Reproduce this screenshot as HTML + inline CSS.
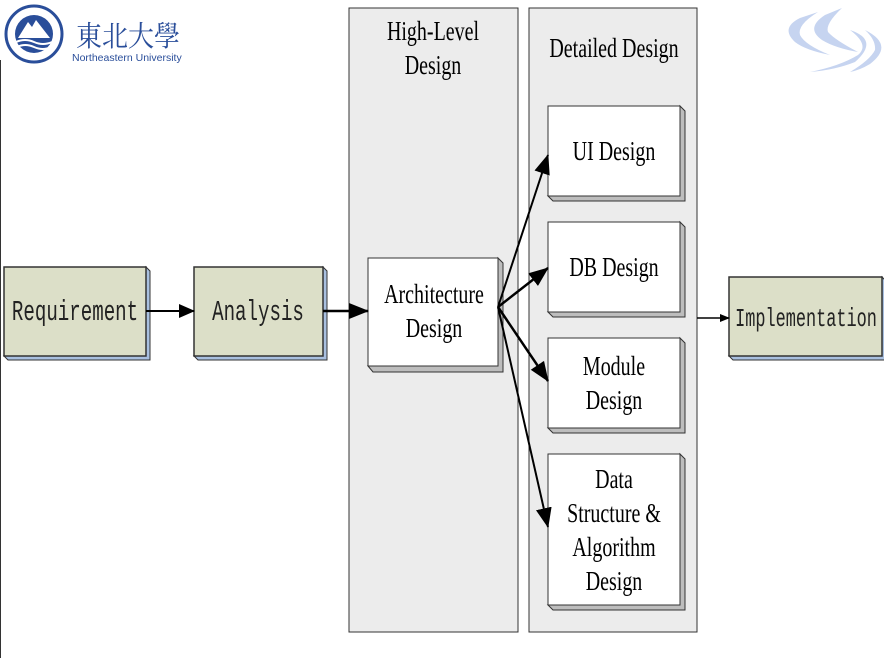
<!DOCTYPE html>
<html><head><meta charset="utf-8"><style>
html,body{margin:0;padding:0;background:#fff;}
svg{display:block;}
text{font-family:"Liberation Serif",serif;fill:#000;}
.s{font-size:27px;}
.m{font-family:"Liberation Mono",monospace;fill:#222;}
</style></head><body>
<svg width="884" height="658" viewBox="0 0 884 658" xmlns="http://www.w3.org/2000/svg">
<defs>
<marker id="a" markerWidth="10" markerHeight="8" refX="9" refY="4" orient="auto" markerUnits="userSpaceOnUse" viewBox="0 0 10 8"><path d="M0,0 L10,4 L0,8 z" fill="#000"/></marker>
<marker id="b" markerWidth="20" markerHeight="16" refX="19" refY="8" orient="auto" markerUnits="userSpaceOnUse" viewBox="0 0 20 16"><path d="M0,0 L20,8 L0,16 z" fill="#000"/></marker>
<marker id="c" markerWidth="16" markerHeight="14" refX="15" refY="7" orient="auto" markerUnits="userSpaceOnUse" viewBox="0 0 16 14"><path d="M0,0 L16,7 L0,14 z" fill="#000"/></marker>
</defs>
<rect x="0" y="0" width="884" height="658" fill="#fff"/>
<line x1="0.5" y1="60" x2="0.5" y2="658" stroke="#333" stroke-width="1"/>
<circle cx="34" cy="34" r="28" fill="#fff" stroke="#2a4e9a" stroke-width="3"/>
<circle cx="34" cy="34" r="19" fill="#2a4e9a"/>
<path d="M18,38 L28,22 L32,27 L36,20 L50,38 z" fill="#fff"/>
<path d="M16,42 Q25,38 34,42 T52,42 M17,47 Q25,43 34,47 T51,47" stroke="#fff" stroke-width="2" fill="none"/>
<text transform="translate(76,46) scale(1,1.1)" style="font-family:'Noto Serif CJK SC',serif;font-size:26px;fill:#2a4e9a">東北大學</text>
<text transform="translate(72,61)" style="font-family:'Liberation Sans',sans-serif;font-size:10.5px;fill:#2a4e9a">Northeastern University</text>
<g fill="#c6d4f0">
<path d="M800,18 Q780,28 795,42 Q805,50 830,55 Q805,45 800,35 Q797,25 818,12 z"/>
<path d="M825,15 Q805,28 822,40 Q835,48 858,52 Q835,40 828,32 Q825,24 842,8 z"/>
<path d="M850,30 Q880,40 855,62 Q835,70 810,72 Q840,66 858,55 Q870,45 850,30 z"/>
<path d="M865,30 Q895,45 870,64 Q860,70 850,72 Q870,60 875,50 Q876,40 865,30 z"/>
</g>
<rect x="349" y="8" width="169" height="624" fill="#ececec" stroke="#333" stroke-width="1"/>
<rect x="529" y="8" width="168" height="624" fill="#ececec" stroke="#333" stroke-width="1"/>
<text class="s" text-anchor="middle" transform="translate(433,40) scale(0.74,1)">High-Level</text>
<text class="s" text-anchor="middle" transform="translate(433,74) scale(0.74,1)">Design</text>
<text class="s" text-anchor="middle" transform="translate(614,57) scale(0.74,1)">Detailed Design</text>
<g>
<path d="M8,360 L150,360 L150,271 L146,267 L146,356 L4,356 z" fill="#a9c0e0" stroke="#333" stroke-width="1"/>
<rect x="4" y="267" width="142" height="89" fill="#dcdfc8" stroke="#333" stroke-width="1.5"/>
<text text-anchor="middle" class="m" font-size="29" transform="translate(75,320) scale(0.66,1)">Requirement</text>
<path d="M198,360 L327,360 L327,271 L323,267 L323,356 L194,356 z" fill="#a9c0e0" stroke="#333" stroke-width="1"/>
<rect x="194" y="267" width="129" height="89" fill="#dcdfc8" stroke="#333" stroke-width="1.5"/>
<text text-anchor="middle" class="m" font-size="29" transform="translate(258,320) scale(0.66,1)">Analysis</text>
<path d="M733,360 L886,360 L886,281 L882,277 L882,356 L729,356 z" fill="#a9c0e0" stroke="#333" stroke-width="1"/>
<rect x="729" y="277" width="153" height="79" fill="#dcdfc8" stroke="#333" stroke-width="1.5"/>
<text text-anchor="middle" class="m" font-size="26" transform="translate(806,326) scale(0.65,1)">Implementation</text>
</g>
<g stroke="#333" stroke-width="1">
<path d="M368,366 L373,372 L503,372 L503,263 L498,258 L498,366 z" fill="#bdbdbd"/>
<rect x="368" y="258" width="130" height="108" fill="#fff"/>
<path d="M548,196 L553,201 L685,201 L685,111 L680,106 L680,196 z" fill="#bdbdbd"/>
<rect x="548" y="106" width="132" height="90" fill="#fff"/>
<path d="M548,312 L553,317 L685,317 L685,227 L680,222 L680,312 z" fill="#bdbdbd"/>
<rect x="548" y="222" width="132" height="90" fill="#fff"/>
<path d="M548,428 L553,433 L685,433 L685,343 L680,338 L680,428 z" fill="#bdbdbd"/>
<rect x="548" y="338" width="132" height="90" fill="#fff"/>
<path d="M548,605 L553,610 L685,610 L685,459 L680,454 L680,605 z" fill="#bdbdbd"/>
<rect x="548" y="454" width="132" height="151" fill="#fff"/>
</g>
<text class="s" text-anchor="middle" transform="translate(434,303) scale(0.74,1)">Architecture</text>
<text class="s" text-anchor="middle" transform="translate(434,337) scale(0.74,1)">Design</text>
<text class="s" text-anchor="middle" transform="translate(614,160) scale(0.74,1)">UI Design</text>
<text class="s" text-anchor="middle" transform="translate(614,276) scale(0.74,1)">DB Design</text>
<text class="s" text-anchor="middle" transform="translate(614,375) scale(0.74,1)">Module</text>
<text class="s" text-anchor="middle" transform="translate(614,409) scale(0.74,1)">Design</text>
<text class="s" text-anchor="middle" transform="translate(614,488) scale(0.74,1)">Data</text>
<text class="s" text-anchor="middle" transform="translate(614,522) scale(0.74,1)">Structure &amp;</text>
<text class="s" text-anchor="middle" transform="translate(614,556) scale(0.74,1)">Algorithm</text>
<text class="s" text-anchor="middle" transform="translate(614,590) scale(0.74,1)">Design</text>
<g stroke="#000" fill="none">
<line x1="146" y1="311" x2="194" y2="311" stroke-width="2" marker-end="url(#c)"/>
<line x1="323" y1="311" x2="368" y2="311" stroke-width="2.5" marker-end="url(#b)"/>
<line x1="498" y1="307" x2="548" y2="155" stroke-width="2" marker-end="url(#b)"/>
<line x1="498" y1="307" x2="548" y2="268" stroke-width="2.5" marker-end="url(#b)"/>
<line x1="498" y1="307" x2="548" y2="381" stroke-width="2.5" marker-end="url(#b)"/>
<line x1="498" y1="307" x2="548" y2="527" stroke-width="2" marker-end="url(#b)"/>
<line x1="697" y1="318" x2="729" y2="318" stroke-width="1.5" marker-end="url(#a)"/>
</g>
</svg>
</body></html>
